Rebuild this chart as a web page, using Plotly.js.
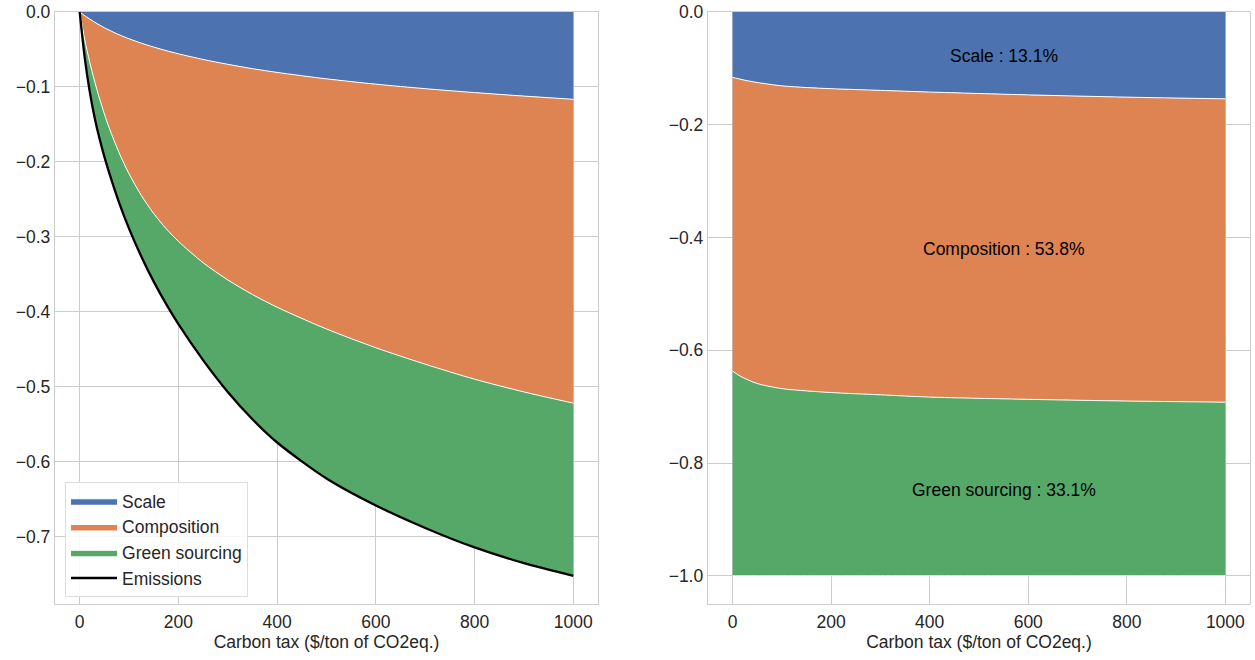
<!DOCTYPE html>
<html>
<head>
<meta charset="utf-8">
<script src="https://cdn.plot.ly/plotly-3.0.1.min.js"></script>
<style>html,body{margin:0;padding:0;background:#fff;}#chart{width:1255px;height:660px;}</style>
</head>
<body>
<div id="chart"></div>
<script>
// ---- Left panel: cumulative decomposition of the emission change ----
const taxLeft = [0, 10, 20, 30, 40, 50, 60, 80, 100, 125, 150, 175, 200, 250, 300, 350, 400, 500, 600, 700, 800, 900, 1000];
// lower edge of the Scale band
const scaleLevel = [0, -0.0048, -0.0093, -0.0135, -0.0173, -0.021, -0.0243, -0.0304, -0.0357, -0.0416, -0.0468, -0.0515, -0.0558, -0.0633, -0.0698, -0.0756, -0.0806, -0.0892, -0.0963, -0.1023, -0.1075, -0.1122, -0.1165];
// lower edge of the Composition band (Scale + Composition)
const compositionLevel = [0, -0.036, -0.066, -0.092, -0.115, -0.136, -0.155, -0.188, -0.216, -0.245, -0.269, -0.289, -0.306, -0.3345, -0.3575, -0.377, -0.394, -0.423, -0.448, -0.47, -0.49, -0.507, -0.522];
// total emission change (lower edge of the Green sourcing band)
const emissions = [0, -0.06, -0.105, -0.14, -0.1685, -0.193, -0.215, -0.2546, -0.289, -0.3265, -0.3598, -0.3895, -0.4165, -0.4645, -0.507, -0.5435, -0.5745, -0.6225, -0.6585, -0.6885, -0.7145, -0.7355, -0.7525];

// ---- Right panel: share of each channel ----
const taxRight = [0, 10, 25, 50, 100, 150, 200, 300, 400, 600, 800, 1000];
const scaleShare = [-0.116, -0.118, -0.121, -0.125, -0.131, -0.134, -0.136, -0.139, -0.142, -0.147, -0.151, -0.154];
const compositionShare = [-0.521, -0.525, -0.529, -0.534, -0.537, -0.538, -0.539, -0.54, -0.541, -0.54, -0.539, -0.538];
const greenShare = [-0.363, -0.357, -0.35, -0.341, -0.332, -0.328, -0.325, -0.321, -0.317, -0.313, -0.31, -0.308];

const seriesNames = ["Scale", "Composition", "Green sourcing"];
const shareLabels = ["Scale : 13.1%", "Composition : 53.8%", "Green sourcing : 33.1%"];
const labelY = [-0.078, -0.421, -0.848];
const labelX = 550;

const colors = ["#4c72b0", "#dd8452", "#55a868"];
const FONT = "Arial, 'Liberation Sans', sans-serif";
const TXT = "#262626";
const FS = 17.5;

const leftLevels = [scaleLevel, compositionLevel, emissions];
const rightVals = [scaleShare, compositionShare, greenShare];

const traces = [];
leftLevels.forEach((v, i) => {
  traces.push({
    x: taxLeft, y: v, type: "scatter", mode: "lines",
    fill: i === 0 ? "tozeroy" : "tonexty",
    name: seriesNames[i], fillcolor: colors[i],
    line: {color: "#ffffff", width: 1, shape: "spline", smoothing: 0.8},
    xaxis: "x", yaxis: "y", hoverinfo: "skip"
  });
});
traces.push({
  x: taxLeft, y: emissions, type: "scatter", mode: "lines", name: "Emissions",
  line: {color: "#000000", width: 2.3, shape: "spline", smoothing: 0.8},
  xaxis: "x", yaxis: "y", hoverinfo: "skip"
});
rightVals.forEach((v, i) => {
  traces.push({
    x: taxRight, y: v, type: "scatter", mode: "lines", stackgroup: "right",
    name: seriesNames[i], fillcolor: colors[i], showlegend: false,
    line: {color: "#ffffff", width: 1, shape: "spline", smoothing: 0.8},
    xaxis: "x2", yaxis: "y2", hoverinfo: "skip"
  });
});

const axisCommon = {
  showline: true, linecolor: "#cccccc", linewidth: 1.2, mirror: true,
  showgrid: true, gridcolor: "#cccccc", gridwidth: 1, zeroline: false,
  ticks: "", tickfont: {family: FONT, size: FS, color: TXT}, automargin: false
};
const xTitle = {text: "Carbon tax ($/ton of CO2eq.)", font: {family: FONT, size: FS, color: TXT}, standoff: 2};

const layout = {
  width: 1255, height: 660,
  margin: {l: 55, r: 5, t: 12, b: 56},
  paper_bgcolor: "#ffffff", plot_bgcolor: "#ffffff",
  font: {family: FONT, size: FS, color: TXT},
  showlegend: true,
  legend: {
    x: 0.0084, y: 0.012, xanchor: "left", yanchor: "bottom", traceorder: "normal",
    bgcolor: "rgba(255,255,255,0.85)", bordercolor: "#dddddd", borderwidth: 1,
    font: {family: FONT, size: FS, color: TXT}, tracegroupgap: 0, itemwidth: 46
  },
  xaxis: Object.assign({}, axisCommon, {
    domain: [0, 0.4544], range: [-50, 1050], tickvals: [0, 200, 400, 600, 800, 1000],
    ticklabelstandoff: 2, title: xTitle, anchor: "y"
  }),
  yaxis: Object.assign({}, axisCommon, {
    domain: [0, 1], range: [-0.79, 0], tickvals: [0, -0.1, -0.2, -0.3, -0.4, -0.5, -0.6, -0.7],
    tickformat: ".1f", anchor: "x"
  }),
  xaxis2: Object.assign({}, axisCommon, {
    domain: [0.5464, 1], range: [-50, 1050], tickvals: [0, 200, 400, 600, 800, 1000],
    ticklabelstandoff: 2, title: xTitle, anchor: "y2"
  }),
  yaxis2: Object.assign({}, axisCommon, {
    domain: [0, 1], range: [-1.05, 0], tickvals: [0, -0.2, -0.4, -0.6, -0.8, -1.0],
    tickformat: ".1f", anchor: "x2"
  }),
  annotations: shareLabels.map((t, i) => ({
    x: labelX, y: labelY[i], xref: "x2", yref: "y2", text: t, showarrow: false,
    font: {family: FONT, size: FS, color: "#000000"}, xanchor: "center", yanchor: "middle"
  }))
};

Plotly.newPlot("chart", traces, layout, {displayModeBar: false, staticPlot: true});
</script>
</body>
</html>
